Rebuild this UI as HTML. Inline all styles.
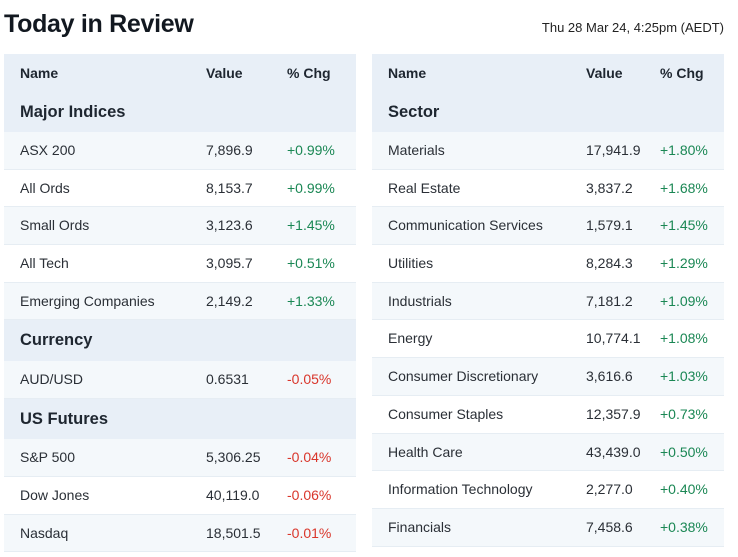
<!DOCTYPE html>
<html><head><meta charset="utf-8"><style>
*{margin:0;padding:0;box-sizing:border-box}
body{width:738px;height:557px;background:#fff;font-family:"Liberation Sans",sans-serif;color:#2a2f36;position:relative;overflow:hidden}
h1{position:absolute;left:4px;top:10px;font-size:25px;font-weight:bold;color:#121820;letter-spacing:-0.3px}
.date{position:absolute;right:14px;top:20px;font-size:13px;color:#222}
.tbl{position:absolute;top:54px;width:352px}
.row{position:relative;height:37.7px;border-bottom:1px solid #e6edf3;font-size:14px;line-height:37px}
.row.l{background:#f4f8fb}
.hdr{background:#e8eff7;height:39px;line-height:39px;font-weight:bold;font-size:14px;color:#1e2630;position:relative}
.sec{background:#e8eff7;height:39px;line-height:39px;font-weight:bold;font-size:16.5px;color:#1e2630;position:relative;padding-left:16px}
.sec.later{height:40.5px;line-height:41px}
.row span,.hdr span{position:absolute;top:0}
.up{color:#1a8754}.dn{color:#d9362b}
</style></head><body>
<h1>Today in Review</h1>
<div class="date">Thu 28 Mar 24, 4:25pm (AEDT)</div>
<div class="tbl" id="L" style="left:4px"></div>
<div class="tbl" id="R" style="left:372px"></div>
<script>
const leftData=[["sec","Major Indices"],["ASX 200","7,896.9","+0.99%"],["All Ords","8,153.7","+0.99%"],["Small Ords","3,123.6","+1.45%"],["All Tech","3,095.7","+0.51%"],["Emerging Companies","2,149.2","+1.33%"],["sec","Currency"],["AUD/USD","0.6531","-0.05%"],["sec","US Futures"],["S&P 500","5,306.25","-0.04%"],["Dow Jones","40,119.0","-0.06%"],["Nasdaq","18,501.5","-0.01%"]];
const rightData=[["sec","Sector"],["Materials","17,941.9","+1.80%"],["Real Estate","3,837.2","+1.68%"],["Communication Services","1,579.1","+1.45%"],["Utilities","8,284.3","+1.29%"],["Industrials","7,181.2","+1.09%"],["Energy","10,774.1","+1.08%"],["Consumer Discretionary","3,616.6","+1.03%"],["Consumer Staples","12,357.9","+0.73%"],["Health Care","43,439.0","+0.50%"],["Information Technology","2,277.0","+0.40%"],["Financials","7,458.6","+0.38%"]];
function build(id,data,cols){
  const t=document.getElementById(id);
  const h=document.createElement('div');h.className='hdr';
  
  
  h.innerHTML=`<span style="left:${cols[0]}px">Name</span><span style="left:${cols[1]}px">Value</span><span style="left:${cols[2]}px">% Chg</span>`;
  t.appendChild(h);
  let i=0,s=0;
  data.forEach(d=>{
    const r=document.createElement('div');
    if(d[0]==='sec'){r.className='sec'+(s>0?' later':'');s++;r.textContent=d[1];i=0;
      
      
    }else{
      r.className='row'+(i%2===0?' l':'');i++;
      
      
      const c=d[2][0]==='-'?'dn':'up';
      r.innerHTML=`<span style="left:${cols[0]}px">${d[0]}</span><span style="left:${cols[1]}px">${d[1]}</span><span class="${c}" style="left:${cols[2]}px">${d[2]}</span>`;
    }
    t.appendChild(r);
  });
}
build('L',leftData,[16,202,283]);
build('R',rightData,[16,214,288]);
</script>
</body></html>
